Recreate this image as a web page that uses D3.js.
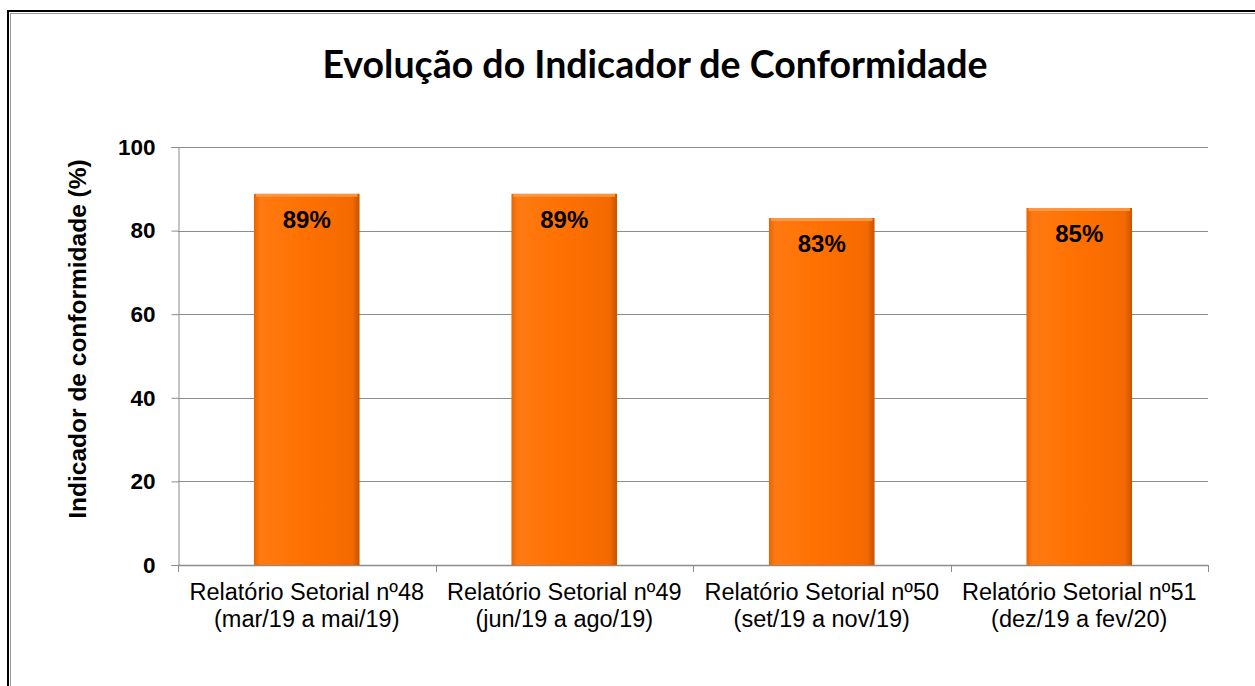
<!DOCTYPE html>
<html><head><meta charset="utf-8">
<script src="https://cdn.jsdelivr.net/npm/d3@7"></script>
<style>body{margin:0;background:#fff}svg{display:block}</style>
</head><body>
<script>
const categoriesLine1 = ["Relatório Setorial nº48","Relatório Setorial nº49","Relatório Setorial nº50","Relatório Setorial nº51"];
const categoriesLine2 = ["(mar/19 a mai/19)","(jun/19 a ago/19)","(set/19 a nov/19)","(dez/19 a fev/20)"];
const values = [88.8, 88.8, 83.0, 85.4];
const valueLabels = ["89%","89%","83%","85%"];
const yTicks = [0,20,40,60,80,100];
const title = "Evolução do Indicador de Conformidade";
const yTitle = "Indicador de conformidade (%)";

const W=1255,H=686;
const svg=d3.select("body").append("svg").attr("width",W).attr("height",H);
const defs=svg.append("defs");
const g1=defs.append("linearGradient").attr("id","barH").attr("x1","0").attr("x2","1").attr("y1","0").attr("y2","0");
g1.append("stop").attr("offset","0").attr("stop-color","#e86400");
g1.append("stop").attr("offset","0.06").attr("stop-color","#ff7a12");
g1.append("stop").attr("offset","0.5").attr("stop-color","#ff7000");
g1.append("stop").attr("offset","0.93").attr("stop-color","#f46a00");
g1.append("stop").attr("offset","1").attr("stop-color","#c65400");

// frame
svg.append("rect").attr("x",8).attr("y",11).attr("width",1260).attr("height",700).attr("fill","none").attr("stroke","#000").attr("stroke-width",2);
svg.append("rect").attr("x",10.5).attr("y",13.5).attr("width",1260).attr("height",700).attr("fill","none").attr("stroke","#999").attr("stroke-width",1);

const x0=178,x1=1208,yTop=147,yBot=565;
const x=d3.scaleBand().domain(d3.range(4)).range([x0,x1]).paddingInner(0.59).paddingOuter(0.295);
const y=d3.scaleLinear().domain([0,100]).range([yBot,yTop]);

// gridlines
svg.append("g").selectAll("line").data(yTicks.filter(d=>d>0)).join("line")
 .attr("x1",x0).attr("x2",x1).attr("y1",d=>Math.round(y(d))+0.5).attr("y2",d=>Math.round(y(d))+0.5)
 .attr("stroke","#8c8c8c").attr("stroke-width",1);

// y axis
const ya=svg.append("g").attr("transform",`translate(${x0+0.5},0)`).call(d3.axisLeft(y).tickValues(yTicks).tickSize(7).tickPadding(16));
ya.select(".domain").attr("stroke","#8c8c8c");
ya.selectAll(".tick line").attr("stroke","#8c8c8c");
ya.selectAll("text").attr("font-family","Liberation Sans, Arial").attr("font-weight","bold").attr("font-size",22.5).attr("fill","#000");

// x axis baseline + ticks
const bw=(x1-x0)/4;
svg.append("line").attr("x1",x0).attr("x2",x1).attr("y1",yBot+0.5).attr("y2",yBot+0.5).attr("stroke","#8c8c8c").attr("stroke-width",1.5);
svg.append("g").selectAll("line").data(d3.range(5)).join("line")
 .attr("x1",d=>Math.round(x0+d*bw)+0.5).attr("x2",d=>Math.round(x0+d*bw)+0.5).attr("y1",yBot).attr("y2",yBot+7)
 .attr("stroke","#8c8c8c");

// bars
const bars=svg.append("g").selectAll("g").data(values).join("g");
bars.append("rect").attr("x",(d,i)=>x(i)).attr("y",d=>y(d)).attr("width",x.bandwidth()).attr("height",d=>yBot-y(d)).attr("fill","url(#barH)");
bars.append("rect").attr("x",(d,i)=>x(i)+2).attr("y",d=>y(d)).attr("width",x.bandwidth()-4).attr("height",3).attr("fill","#ffa050").attr("opacity",0.8);
bars.append("text").attr("x",(d,i)=>x(i)+x.bandwidth()/2).attr("y",d=>y(d)+34)
 .attr("text-anchor","middle").attr("font-family","Liberation Sans, Arial").attr("font-weight","bold").attr("font-size",24)
 .text((d,i)=>valueLabels[i]);

// x labels
const xl=svg.append("g").selectAll("text").data(d3.range(4)).join("text")
 .attr("text-anchor","middle").attr("font-family","Liberation Sans, Arial").attr("font-size",23.5).attr("fill","#000");
xl.append("tspan").attr("x",i=>x(i)+x.bandwidth()/2).attr("y",600).text(i=>categoriesLine1[i]);
xl.append("tspan").attr("x",i=>x(i)+x.bandwidth()/2).attr("y",627).text(i=>categoriesLine2[i]);

// titles
svg.append("text").attr("x",655).attr("y",78).attr("text-anchor","middle").attr("font-family","Lato, Open Sans, sans-serif").attr("font-weight","bold").attr("font-size",37.5).text(title);
svg.append("text").attr("transform","translate(86,339) rotate(-90)").attr("text-anchor","middle").attr("font-family","Liberation Sans, Arial").attr("font-weight","bold").attr("font-size",24.5).text(yTitle);
</script>
</body></html>
